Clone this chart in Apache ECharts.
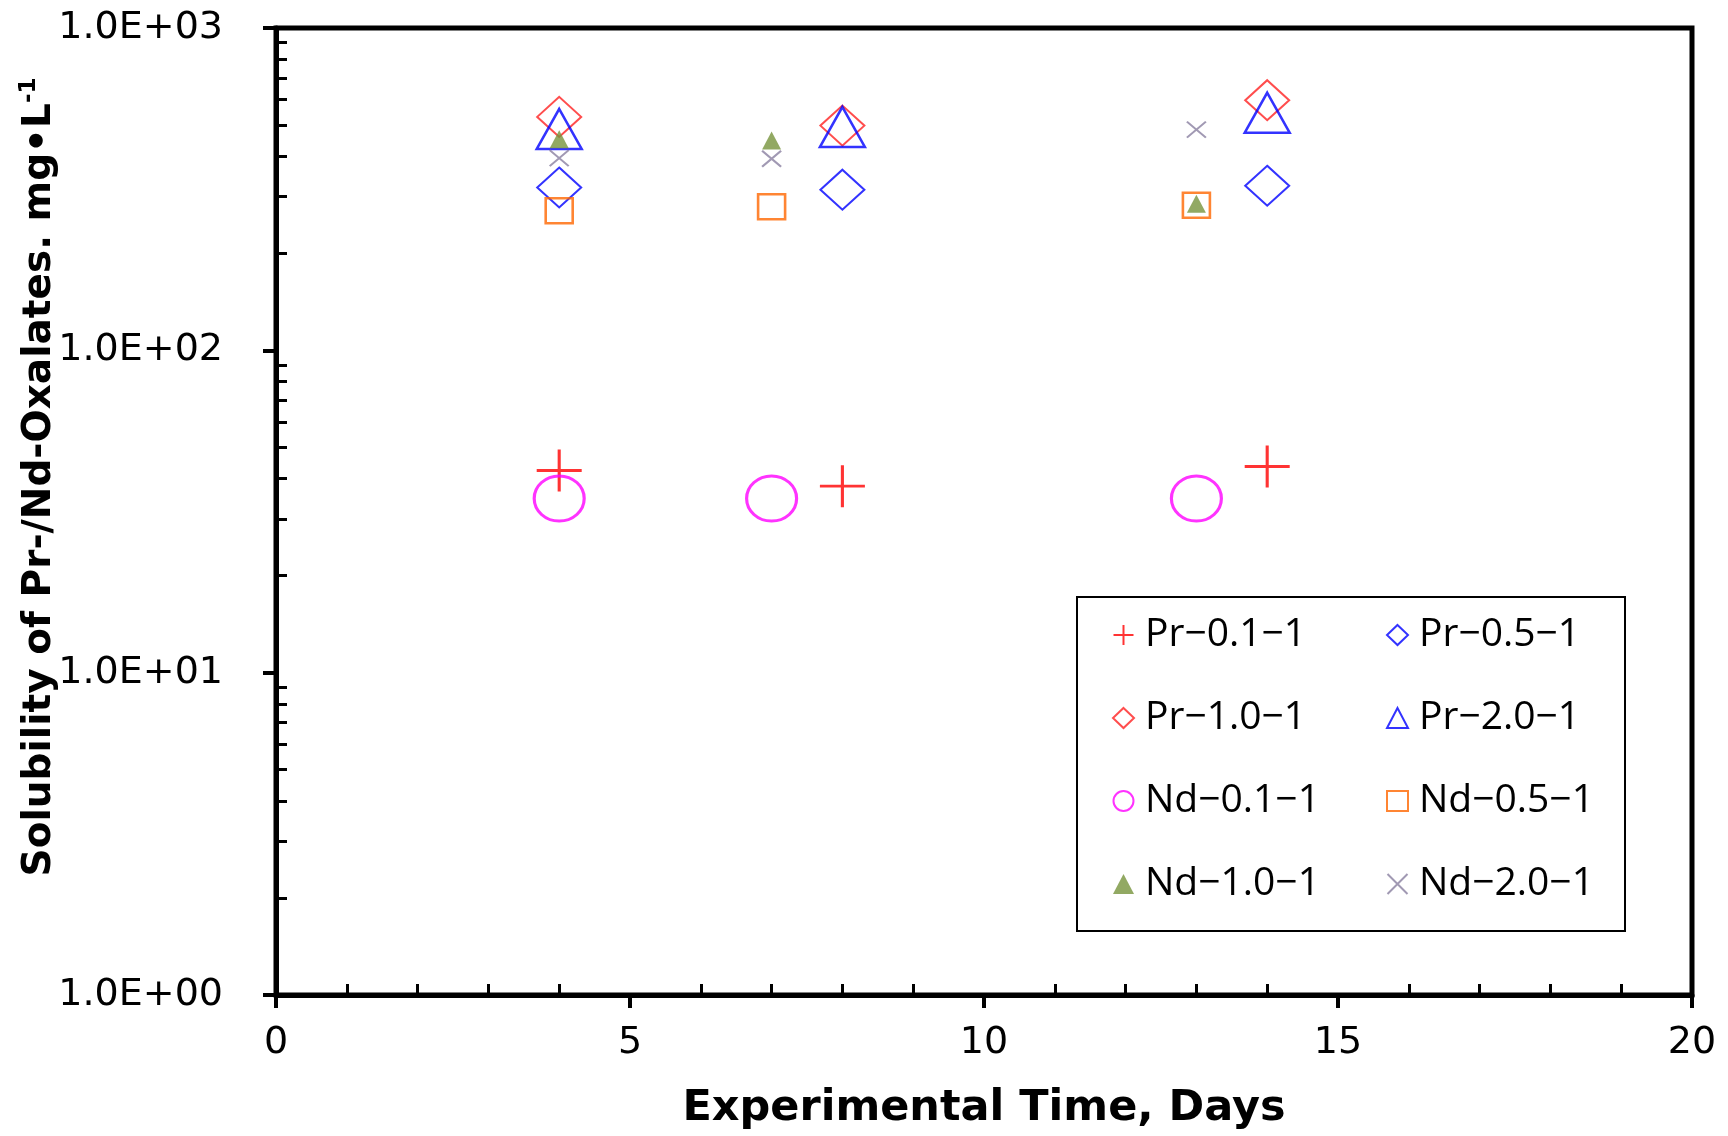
<!DOCTYPE html>
<html><head><meta charset="utf-8">
<script src="https://cdn.jsdelivr.net/npm/echarts@6/dist/echarts.min.js"></script>
<style>html,body{margin:0;padding:0;background:#fff}#c{width:1728px;height:1136px}</style>
</head><body><div id="c"></div>
<script>
// ---- data (days, mg/L) ----
const pr01 = [[4, 42.4], [8, 37.9], [14, 43.6]];
const pr05 = [[4, 320], [8, 315], [14, 324]];
const pr10 = [[4, 530], [8, 498], [14, 597]];
const pr20 = [[4, 486], [8, 493], [14, 546]];
const nd01 = [[4, 34.7], [7, 34.7], [13, 34.7]];
const nd05 = [[4, 271], [7, 279], [13, 282]];
const nd10 = [[4, 452], [7, 448], [13, 285]];
const nd20 = [[4, 395], [7, 393], [13, 484]];
const names = ['Pr−0.1−1', 'Pr−0.5−1', 'Pr−1.0−1', 'Pr−2.0−1', 'Nd−0.1−1', 'Nd−0.5−1', 'Nd−1.0−1', 'Nd−2.0−1'];
const xMinorTicks = [1, 2, 3, 4, 6, 7, 8, 9, 11, 12, 13, 14, 16, 17, 18, 19];
const yMinorTicks = [2, 3, 4, 5, 6, 7, 8, 9, 20, 30, 40, 50, 60, 70, 80, 90, 200, 300, 400, 500, 600, 700, 800, 900];

const PLUS = 'path://M0,10L20,10M10,0L10,20';
const CROSS = 'path://M0,0L20,20M20,0L0,20';
const clear = 'rgba(0,0,0,0)';
const FONT = 'DejaVu Sans';

const chart = echarts.init(document.getElementById('c'));
const tickFont = { fontFamily: FONT, fontSize: 38, color: '#000' };
const legendText = { fontFamily: 'Open Sans', fontSize: 39, color: '#000', lineHeight: 40, padding: [0, 0, 0, 6] };

chart.setOption({
  animation: false,
  backgroundColor: '#fff',
  grid: { left: 276, right: 36, top: 28, bottom: 141, show: true, borderColor: '#000', borderWidth: 5 },
  xAxis: [{
    type: 'value', min: 0, max: 20, interval: 5,
    name: 'Experimental Time, Days', nameLocation: 'middle', nameGap: 92,
    nameTextStyle: { fontFamily: FONT, fontWeight: 'bold', fontSize: 43, color: '#000' },
    axisLine: { show: true, lineStyle: { color: '#000', width: 5 } },
    axisTick: { show: true, inside: false, length: 13, lineStyle: { color: '#000', width: 4 } },
    axisLabel: Object.assign({ margin: 29 }, tickFont),
    splitLine: { show: false }
  }, {
    type: 'value', min: 0, max: 20, position: 'bottom',
    axisLine: { show: false },
    axisTick: { show: true, inside: true, length: 11, customValues: xMinorTicks, lineStyle: { color: '#000', width: 3 } },
    axisLabel: { show: false }, splitLine: { show: false }
  }],
  yAxis: [{
    type: 'log', logBase: 10, min: 1, max: 1000,
    axisLine: { show: true, lineStyle: { color: '#000', width: 5 } },
    axisTick: { show: true, inside: false, length: 13, lineStyle: { color: '#000', width: 4 } },
    axisLabel: Object.assign({
      margin: 53,
      formatter: v => '1.0E+' + String(Math.round(Math.log10(v))).padStart(2, '0')
    }, tickFont),
    splitLine: { show: false }, minorTick: { show: false }
  }, {
    // log-space helper axis used only for the 2..9 minor ticks
    type: 'value', min: 0, max: 3, position: 'left',
    axisLine: { show: false },
    axisTick: { show: true, inside: true, length: 11, customValues: yMinorTicks.map(v => Math.log10(v)), lineStyle: { color: '#000', width: 3 } },
    axisLabel: { show: false }, splitLine: { show: false }
  }],
  legend: [{
    orient: 'vertical', left: 1107, top: 610, itemWidth: 21, itemHeight: 20, itemGap: 43,
    data: [names[0], names[2], names[4], names[6]], textStyle: legendText
  }, {
    orient: 'vertical', left: 1381, top: 610, itemWidth: 21, itemHeight: 20, itemGap: 43,
    data: [names[1], names[3], names[5], names[7]], textStyle: legendText
  }],
  graphic: [{
    type: 'rect', shape: { x: 1077, y: 597, width: 548, height: 334 },
    style: { fill: clear, stroke: '#000', lineWidth: 2 }, z: 1
  }, {
    type: 'text', x: 40, y: 477, rotation: Math.PI / 2,
    style: {
      text: '{m|Solubility of Pr-/Nd-Oxalates. mg•L}{s|-1}',
      align: 'center', verticalAlign: 'middle',
      rich: {
        m: { fontFamily: FONT, fontWeight: 'bold', fontSize: 39, fill: '#000', lineHeight: 44 },
        s: { fontFamily: FONT, fontWeight: 'bold', fontSize: 23, fill: '#000', verticalAlign: 'top', lineHeight: 24 }
      }
    }
  }],
  series: [
    { name: names[0], type: 'scatter', data: pr01, symbol: PLUS, symbolSize: [45, 42], symbolKeepAspect: false,
      itemStyle: { color: clear, borderColor: '#FF0000', borderWidth: 3 } },
    { name: names[1], type: 'scatter', data: pr05, symbol: 'diamond', symbolSize: [44, 40],
      itemStyle: { color: clear, borderColor: '#0000FF', borderWidth: 2 } },
    { name: names[2], type: 'scatter', data: pr10, symbol: 'diamond', symbolSize: [44, 40],
      itemStyle: { color: clear, borderColor: '#FF2020', borderWidth: 2 } },
    { name: names[3], type: 'scatter', data: pr20, symbol: 'triangle', symbolSize: [45, 40],
      itemStyle: { color: clear, borderColor: '#0000FF', borderWidth: 2.5 } },
    { name: names[4], type: 'scatter', data: nd01, symbol: 'circle', symbolSize: [50, 45],
      itemStyle: { color: clear, borderColor: '#FF00FF', borderWidth: 3 } },
    { name: names[5], type: 'scatter', data: nd05, symbol: 'rect', symbolSize: [27, 25],
      itemStyle: { color: clear, borderColor: '#FF6600', borderWidth: 2.5 } },
    { name: names[6], type: 'scatter', data: nd10, symbol: 'triangle', symbolSize: [19, 18],
      itemStyle: { color: '#77933C' } },
    { name: names[7], type: 'scatter', data: nd20, symbol: CROSS, symbolSize: [19, 16], symbolKeepAspect: false,
      itemStyle: { color: clear, borderColor: '#8A80A0', borderWidth: 2 } }
  ]
});
</script></body></html>
